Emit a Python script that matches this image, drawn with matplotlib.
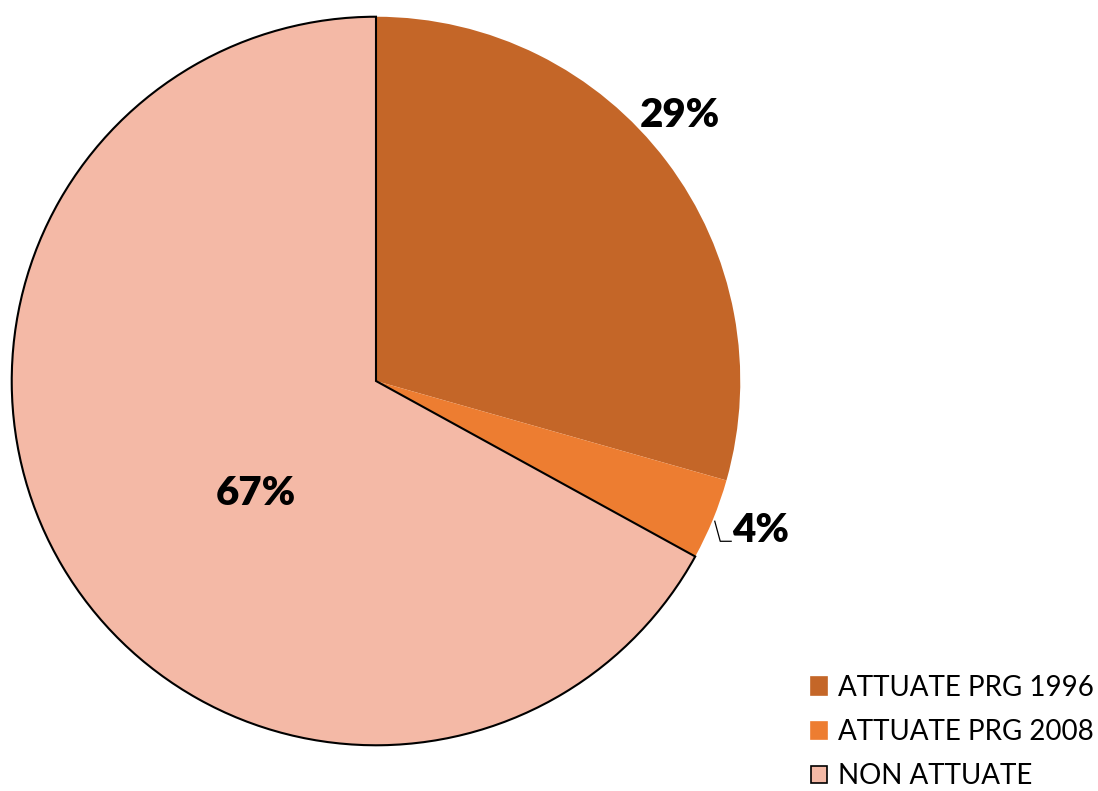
import matplotlib
matplotlib.use("Agg")
import matplotlib.pyplot as plt

categories = ["ATTUATE PRG 1996", "ATTUATE PRG 2008", "NON ATTUATE"]
values = [29.4, 3.6, 67.0]
colors = ["#C46628", "#ED7D31", "#F4B9A6"]

plt.rcParams["font.family"] = ["Lato", "DejaVu Sans"]

W, H = 1098, 791
fig = plt.figure(figsize=(W / 100, H / 100), dpi=100)
cx, cy, r = 376, 381, 365
ax = fig.add_axes([(cx - r) / W, (H - cy - r) / H, 2 * r / W, 2 * r / H])

wedges, _ = ax.pie(values, colors=colors, startangle=90, counterclock=False,
                   radius=1.0, center=(0, 0), frame=False)
ax.set_xlim(-1.002, 1.002)
ax.set_ylim(-1.002, 1.002)
ax.set_aspect("equal")
ax.axis("off")
# only the last slice carries an outline
wedges[2].set_edgecolor("black")
wedges[2].set_linewidth(1.5)

total = sum(values)
labels = [f"{round(100 * v / total)}%" for v in values]
label_pos = [(0.835, 0.73), (1.055, -0.411), (-0.33, -0.31)]
for txt, (x, y) in zip(labels, label_pos):
    ax.text(x, y, txt, ha="center", va="center", fontsize=29,
            fontweight="heavy", color="black")

# leader line for the small slice
ax.plot([0.93, 0.945, 0.975], [-0.385, -0.44, -0.44], color="black", lw=0.9,
        clip_on=False)

handles = [plt.Rectangle((0, 0), 1, 1, facecolor=c,
                         edgecolor=("black" if i == 2 else c), linewidth=1.2)
           for i, c in enumerate(colors)]
fig.legend(handles, categories, loc="lower right",
           bbox_to_anchor=(1.0 + 1 / W, -4 / H), frameon=False, fontsize=20,
           handlelength=0.58, handleheight=0.58, handletextpad=0.38,
           labelspacing=0.66, borderaxespad=0.1, borderpad=0.1)

fig.savefig("out.png", dpi=100)
